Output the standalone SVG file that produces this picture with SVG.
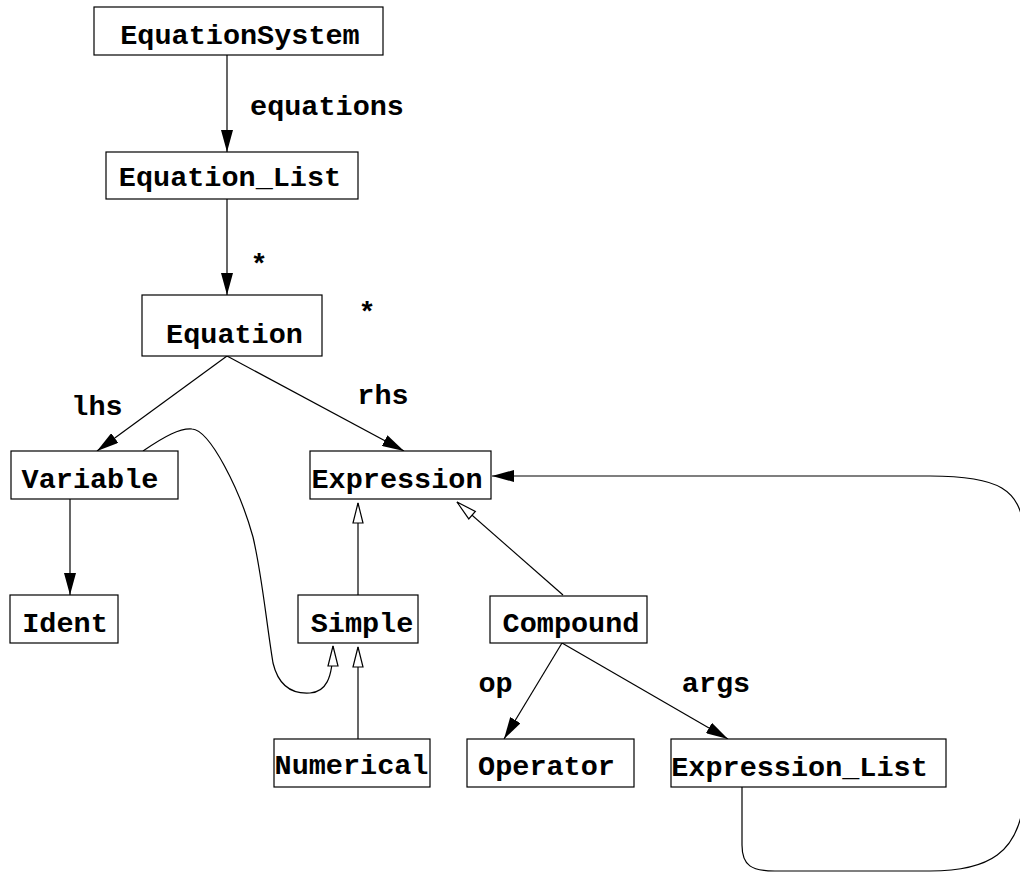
<svg xmlns="http://www.w3.org/2000/svg" width="1020" height="872" viewBox="0 0 1020 872">
<style>
.box{fill:#fff;stroke:#000;stroke-width:1.2}
.lbl{font-family:"Liberation Mono","Courier New",monospace;font-weight:bold;font-size:28.5px;fill:#000;text-anchor:middle}
.ln{fill:none;stroke:#000;stroke-width:1.2}
.fa{marker-end:url(#filled)}
.ha{marker-end:url(#hollow)}
</style>
<defs>
<marker id="filled" viewBox="0 0 22 12" refX="22" refY="6" markerWidth="22" markerHeight="12" markerUnits="userSpaceOnUse" orient="auto">
<path d="M0,0 L22,6 L0,12 z" fill="#000"/>
</marker>
<marker id="hollow" viewBox="-1 -1 23 12" refX="20" refY="5" markerWidth="23" markerHeight="12" markerUnits="userSpaceOnUse" orient="auto" overflow="visible">
<path d="M0,0 L20,5 L0,10 z" fill="#fff" stroke="#000" stroke-width="1.2"/>
</marker>
</defs>
<rect width="1020" height="872" fill="#fff"/>
<g id="connectors">
<line class="ln fa" x1="227" y1="55" x2="227" y2="152"/>
<line class="ln fa" x1="227" y1="199" x2="227" y2="295"/>
<line class="ln fa" x1="227" y1="356" x2="97" y2="451"/>
<line class="ln fa" x1="227" y1="356" x2="404" y2="451"/>
<line class="ln fa" x1="70" y1="499" x2="70" y2="595"/>
<line class="ln fa" x1="562" y1="643" x2="504" y2="739"/>
<line class="ln fa" x1="562" y1="643" x2="728" y2="739"/>
<path class="ln fa" d="M742,787 L742,845 C742,866 752,871 775,871 L930,871 C990,871 1018,852 1024,800 L1024,530 C1020,490 1000,476 930,476 L492,476"/>
<line class="ln ha" x1="358" y1="595" x2="358" y2="503"/>
<line class="ln ha" x1="358" y1="739" x2="358" y2="647"/>
<line class="ln ha" x1="563" y1="595" x2="457" y2="502"/>
<path class="ln ha" d="M143,451 C165,436 180,428 192,429 C210,430 240,490 253,537 C262,575 266,620 273,663 C279,688 295,694 310,693 C325,692 333,680 333,646"/>
<text class="lbl" x="327" y="115">equations</text>
<text class="lbl" x="259" y="273">*</text>
<text class="lbl" x="367" y="321">*</text>
<text class="lbl" x="97" y="415">lhs</text>
<text class="lbl" x="383" y="404">rhs</text>
<text class="lbl" x="495.5" y="692">op</text>
<text class="lbl" x="716" y="692">args</text>
</g>
<g id="EquationSystem"><rect class="box" x="94" y="7" width="289" height="48"/><text class="lbl" x="240" y="44">EquationSystem</text></g>
<g id="Equation_List"><rect class="box" x="106" y="152" width="252" height="47"/><text class="lbl" x="230" y="186">Equation_List</text></g>
<g id="Equation"><rect class="box" x="142" y="295" width="180" height="61"/><text class="lbl" x="234.5" y="343">Equation</text></g>
<g id="Variable"><rect class="box" x="11" y="451" width="167" height="48"/><text class="lbl" x="90" y="488">Variable</text></g>
<g id="Expression"><rect class="box" x="310" y="451" width="181" height="48"/><text class="lbl" x="397" y="488">Expression</text></g>
<g id="Ident"><rect class="box" x="10" y="595" width="108" height="48"/><text class="lbl" x="65" y="632">Ident</text></g>
<g id="Simple"><rect class="box" x="298" y="595" width="120" height="48"/><text class="lbl" x="362" y="632">Simple</text></g>
<g id="Compound"><rect class="box" x="490" y="596" width="157" height="47"/><text class="lbl" x="571" y="632">Compound</text></g>
<g id="Numerical"><rect class="box" x="274" y="739" width="156" height="48"/><text class="lbl" x="351.5" y="774">Numerical</text></g>
<g id="Operator"><rect class="box" x="467" y="739" width="167" height="48"/><text class="lbl" x="546.5" y="775">Operator</text></g>
<g id="Expression_List"><rect class="box" x="671" y="739" width="275" height="48"/><text class="lbl" x="799.5" y="776">Expression_List</text></g>
</svg>
